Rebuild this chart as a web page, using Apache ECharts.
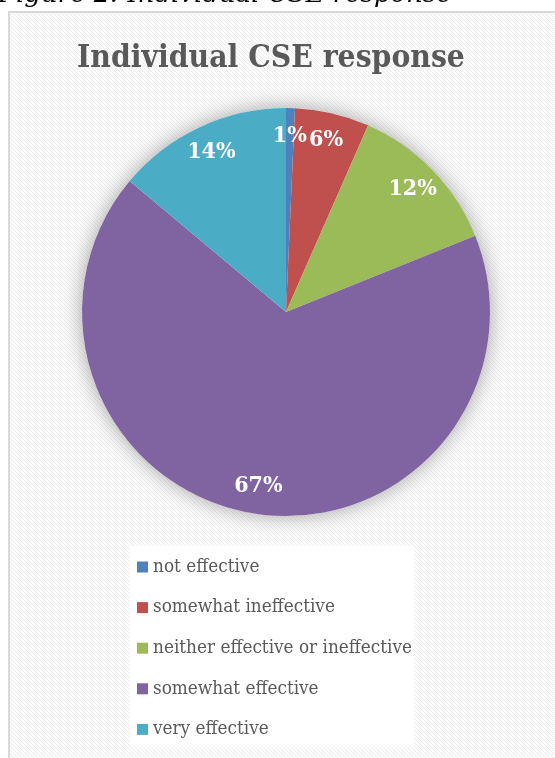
<!DOCTYPE html>
<html>
<head>
<meta charset="utf-8">
<script src="https://cdn.jsdelivr.net/npm/echarts@6/dist/echarts.min.js"></script>
<style>
  html, body { margin: 0; padding: 0; background: #fff; }
  #chart { width: 555px; height: 758px; }
</style>
</head>
<body>
<div id="chart"></div>
<script>
const categories = [
  'not effective',
  'somewhat ineffective',
  'neither effective or ineffective',
  'somewhat effective',
  'very effective'
];
const shares = [0.7, 5.9, 12.3, 67.2, 13.9];
const colors = ['#4f81bd', '#c0504d', '#9bbb59', '#8064a2', '#4bacc6'];

const serif = '"DejaVu Serif Condensed", "DejaVu Serif", serif';

// light diagonal hatch, like the Office chart area fill
function hatch() {
  const c = document.createElement('canvas');
  c.width = 4;
  c.height = 4;
  const ctx = c.getContext('2d');
  ctx.fillStyle = '#fcfcfc';
  ctx.fillRect(0, 0, 4, 4);
  ctx.fillStyle = '#ededed';
  for (let x = 0; x < 4; x++) {
    for (let y = 0; y < 4; y++) {
      if ((x - y + 8) % 4 === 0) ctx.fillRect(x, y, 1, 1);
    }
  }
  return c;
}

const chart = echarts.init(document.getElementById('chart'));
const items = categories.map((name, i) => ({ name, value: shares[i], itemStyle: { color: colors[i] } }));
const center = [286, 312];
const R = 204;

chart.setOption({
  animation: false,
  graphic: [
    {
      type: 'rect',
      z: -10,
      shape: { x: 9, y: 12, width: 560, height: 760 },
      style: { fill: { image: hatch(), repeat: 'repeat' }, stroke: '#d9d9d9', lineWidth: 2 }
    },
    {
      type: 'text',
      left: -2,
      top: -18,
      style: {
        text: 'Figure 2: Individual CSE response',
        font: 'italic 26px "DejaVu Serif"',
        fill: '#000'
      }
    }
  ],
  title: {
    text: 'Individual CSE response',
    left: 266,
    textAlign: 'center',
    top: 38,
    textStyle: {
      fontFamily: serif,
      fontSize: 31.5,
      fontWeight: 'bold',
      color: '#595959'
    }
  },
  legend: {
    data: categories,
    orient: 'vertical',
    left: 130,
    top: 546,
    padding: [11, 2, 7, 7],
    backgroundColor: 'rgba(255,255,255,0.85)',
    itemWidth: 11,
    itemHeight: 11,
    itemGap: 20.6,
    icon: 'rect',
    textStyle: {
      fontFamily: serif,
      fontSize: 18.8,
      lineHeight: 20,
      color: '#595959'
    }
  },
  series: [
    {
      // soft shadow behind the whole pie
      type: 'pie',
      silent: true,
      center,
      radius: R,
      z: 1,
      label: { show: false },
      labelLine: { show: false },
      data: [{ value: 1, name: 'shadow', itemStyle: { color: '#ffffff' } }],
      itemStyle: { shadowBlur: 22, shadowColor: 'rgba(0,0,0,0.35)' }
    },
    {
      type: 'pie',
      center,
      radius: R,
      startAngle: 90,
      z: 2,
      label: { show: false },
      labelLine: { show: false },
      data: items
    },
    {
      // transparent ring used only to place the labels near the rim
      type: 'pie',
      silent: true,
      center,
      radius: [R * 0.7, R],
      startAngle: 90,
      z: 3,
      itemStyle: { color: 'rgba(0,0,0,0)' },
      labelLine: { show: false },
      label: {
        show: true,
        position: 'inside',
        formatter: p => Math.round(p.percent) + '%',
        color: '#fff',
        fontFamily: serif,
        fontWeight: 'bold',
        fontSize: 23,
        padding: [4, 0, 0, 0]
      },
      data: categories.map((name, i) => ({ name, value: shares[i] }))
    }
  ]
});
</script>
</body>
</html>
